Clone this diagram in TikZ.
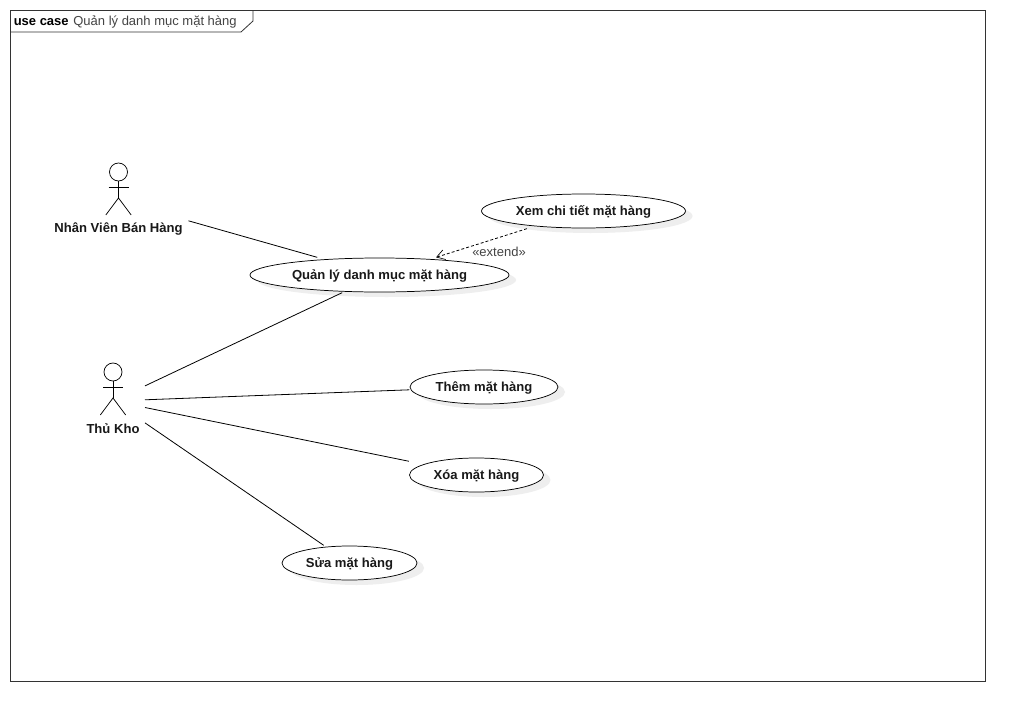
\documentclass[tikz,border=0pt]{standalone}
\usepackage{fontspec}
\setmainfont{Liberation Sans}
\usetikzlibrary{arrows.meta}
\definecolor{framec}{HTML}{333333}
\definecolor{shadowc}{HTML}{EEEEEE}
\definecolor{labelc}{HTML}{444444}
\tikzset{
  uline/.style={draw=black,line width=0.55pt},
  framel/.style={draw=framec,line width=0.6pt},
  connector/.style={draw=black,line width=0.6pt},
  extendc/.style={draw=black,line width=0.6pt,dash pattern=on 2.2pt off 1.6pt,
     -{Straight Barb[length=6pt,width=7.5pt,line width=0.5pt]}},
  boldtext/.style={font=\fontsize{9.8pt}{11pt}\selectfont\bfseries,text=black!90},
  ubox/.style={shape=rectangle,inner sep=0pt,outer sep=0.5pt,align=center},
  abox/.style={shape=rectangle,inner sep=0pt,outer sep=3.75pt},
  smalltext/.style={font=\fontsize{9.75pt}{11pt}\selectfont,text=labelc}
}
% name, cx, cy, half width, text
\newcommand{\usecasebox}[5]{
  \fill[shadowc] (#2+7,#3+5) ellipse [x radius=#4,y radius=17];
  \path[uline,fill=white] (#2,#3) ellipse [x radius=#4,y radius=17];
  \node[ubox,minimum width=2*#4*0.75pt,minimum height=25.5pt] (#1) at (#2,#3) {};
  \node[boldtext,inner sep=0pt] (#1text) at (#2,#3+1.2) {#5};
}
% name, head x, head y, box cx, box cy, box w, box h
\newcommand{\actorfig}[7]{
  \draw[uline] (#2,#3) circle [radius=9];
  \draw[uline] (#2,#3+9) -- (#2,#3+26);
  \draw[uline] (#2-10,#3+15) -- (#2+10,#3+15);
  \draw[uline] (#2-12.7,#3+43) -- (#2,#3+26) -- (#2+12.7,#3+43);
  \node[abox,minimum width=#6*0.75pt,minimum height=#7*0.75pt] (#1) at (#4,#5) {};
}
\begin{document}
\begin{tikzpicture}[x=0.75pt,y=-0.75pt]
\useasboundingbox (0,0) rectangle (1025,721);
\fill[white] (0,0) rectangle (1025,721);
% frame
\draw[framel] (10,10) rectangle (985,681);
\draw[framel] (10,32) -- (241,32) -- (253,21) -- (253,10);
\node[smalltext,anchor=west,inner sep=0pt] (title) at (13.5,22.3) {\textbf{\textcolor{black}{use case}}\hspace{3.5pt}Quản lý danh mục mặt hàng};
% use cases
\usecasebox{ql}{379.5}{275}{129.5}{Quản lý danh mục mặt hàng}
\usecasebox{xem}{583.5}{211}{102}{Xem chi tiết mặt hàng}
\usecasebox{them}{484}{387}{74}{Thêm mặt hàng}
\usecasebox{xoa}{476.5}{475}{67}{Xóa mặt hàng}
\usecasebox{sua}{349.5}{563}{67.5}{Sửa mặt hàng}
% actors
\actorfig{nv}{118.5}{172}{118.5}{201}{130}{74}
\actorfig{tk}{113}{372}{113}{401}{54}{74}
\node[boldtext,inner sep=0pt] (nvlabel) at (118.5,229.2) {Nhân Viên Bán Hàng};
\node[boldtext,inner sep=0pt] (tklabel) at (113,429) {Thủ Kho};
% connectors
\draw[connector] (nv) -- (ql);
\draw[connector] (tk) -- (ql);
\draw[connector] (tk) -- (them);
\draw[connector] (tk) -- (xoa);
\draw[connector] (tk) -- (sua);
\draw[extendc] ([xshift=-42.4pt]xem.south) -- ([xshift=42.4pt]ql.north);
\node[smalltext,inner sep=0pt] (extlabel) at (499,252) {«extend»};
\end{tikzpicture}
\end{document}
